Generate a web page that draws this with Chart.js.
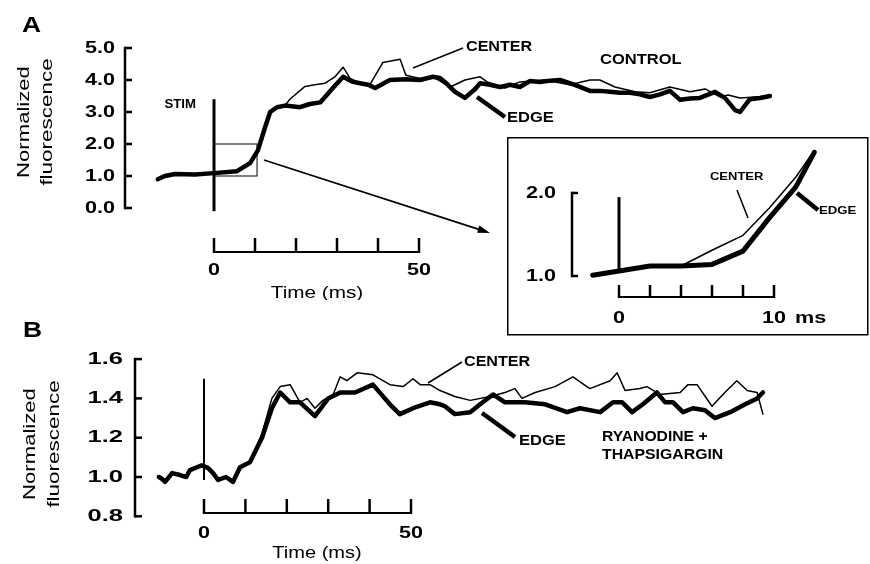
<!DOCTYPE html>
<html>
<head>
<meta charset="utf-8">
<script src="https://cdn.jsdelivr.net/npm/chart.js@4.4.1/dist/chart.umd.min.js"></script>
<style>
  body { margin: 0; background: #fff; }
  #wrap { position: relative; width: 870px; height: 564px; overflow: hidden; background: #fff; }
  canvas { position: absolute; }
</style>
</head>
<body>
<div id="wrap">
  <canvas id="panelA"></canvas>
  <canvas id="panelB"></canvas>
  <canvas id="panelInset"></canvas>
</div>
<script>
// ---- values (time in ms, normalized fluorescence) ----
const aEdgeTime = [-13.7, -12, -9.5, -4.6, 0, 5.6, 8.8, 10.7, 12.4, 13.7, 15.4, 17.3, 21, 23.4, 25.9, 29, 31.5, 33.7, 35.6, 37.6, 39.3, 42.9, 46.6, 50.2, 53.4, 55.1, 56.3, 58.8, 61.2, 63.7, 64.9, 67.3, 69.8, 72.2, 74.6, 77.1, 79.5, 82, 84.4, 88, 91.7, 94.1, 96.6, 99, 101.5, 103.9, 106.3, 108.8, 111.2, 113.7, 116.1, 118.5, 122.2, 124.6, 127.1, 128.3, 130.7, 133.2, 135.6];
const aEdgeValue = [0.9, 1.0, 1.06, 1.05, 1.09, 1.15, 1.4, 1.8, 2.5, 3.0, 3.15, 3.2, 3.15, 3.25, 3.3, 3.75, 4.1, 3.95, 3.9, 3.85, 3.75, 4.0, 4.02, 4.0, 4.1, 4.06, 3.94, 3.63, 3.44, 3.72, 3.9, 3.85, 3.78, 3.85, 3.78, 3.97, 3.94, 3.98, 4.0, 3.85, 3.66, 3.66, 3.63, 3.6, 3.6, 3.55, 3.47, 3.55, 3.66, 3.38, 3.42, 3.44, 3.63, 3.44, 3.06, 3.0, 3.4, 3.44, 3.5];
const aCenterTime = [-13.7, -12, -9.5, -4.6, 0, 5.6, 8.8, 10.7, 12.4, 13.7, 15.4, 17.3, 18.5, 22.2, 24.6, 27.1, 29.5, 31.5, 33.2, 35.6, 38, 41.2, 45.4, 46.8, 50.2, 53.4, 57.6, 61.2, 64.9, 66.6, 71, 74.6, 80.7, 86.8, 91.7, 94.1, 97.8, 102.7, 106.3, 111.2, 116.1, 119.8, 123.4, 125.4, 128.3, 132, 135.6];
const aCenterValue = [0.9, 1.0, 1.06, 1.05, 1.09, 1.15, 1.4, 1.8, 2.5, 3.0, 3.15, 3.2, 3.4, 3.8, 3.85, 3.9, 4.1, 4.4, 4.05, 3.9, 3.85, 4.55, 4.65, 4.15, 4.05, 4.1, 3.78, 4.0, 4.1, 3.94, 3.75, 3.94, 4.0, 3.85, 4.0, 4.0, 3.78, 3.63, 3.6, 3.78, 3.63, 3.72, 3.47, 3.53, 3.44, 3.47, 3.5];

const insetEdgeTime = [-1.7, 0, 2, 4, 6, 8, 9.7, 11.4, 12.6];
const insetEdgeValue = [1.01, 1.06, 1.12, 1.12, 1.14, 1.3, 1.7, 2.07, 2.49];
const insetCenterTime = [-1.7, 0, 2, 4, 6, 8, 9.7, 11.4, 12.4];
const insetCenterValue = [1.01, 1.06, 1.12, 1.12, 1.31, 1.49, 1.82, 2.19, 2.46];

const bEdgeTime = [-10.9, -10.1, -9.4, -7.7, -5.8, -4.3, -3.4, -0.5, 1, 2.2, 3.4, 5.3, 7, 8.7, 11.1, 14, 16.4, 18.4, 20.8, 23.2, 26.8, 30, 32.9, 36.5, 40.8, 44.9, 47.3, 50.5, 54.6, 57, 58.2, 60.6, 64.3, 66.7, 69.8, 72.7, 77.5, 82.4, 87.7, 90.8, 95.7, 98.8, 101, 103.4, 106, 109.4, 111.4, 113.3, 115.7, 118.1, 121, 123.4, 127.1, 130.7, 133.6, 135];
const bEdgeValue = [1.0, 0.99, 0.975, 1.02, 1.01, 1.0, 1.035, 1.06, 1.045, 1.02, 0.985, 1.0, 0.975, 1.05, 1.075, 1.2, 1.35, 1.43, 1.38, 1.38, 1.31, 1.4, 1.43, 1.43, 1.47, 1.37, 1.32, 1.35, 1.38, 1.37, 1.36, 1.32, 1.33, 1.37, 1.42, 1.38, 1.38, 1.37, 1.33, 1.35, 1.33, 1.38, 1.38, 1.33, 1.37, 1.43, 1.38, 1.38, 1.33, 1.35, 1.34, 1.3, 1.33, 1.37, 1.4, 1.43];
const bCenterTime = [-10.9, -10.1, -9.4, -7.7, -5.8, -4.3, -3.4, -0.5, 1, 2.2, 3.4, 5.3, 7, 8.7, 11.1, 14, 16.4, 18.4, 20.8, 23.2, 24.9, 26.8, 28.7, 31.2, 32.9, 34.5, 37, 40.8, 44.9, 48.1, 50.5, 52.2, 54.6, 57, 60.6, 64.3, 69.1, 72.7, 75.1, 76.8, 80, 84.8, 89.1, 93.2, 98.1, 99.8, 101.7, 105.3, 107, 110.1, 115, 116.9, 119.1, 122.7, 125.8, 128.7, 131.2, 133.6, 135];
const bCenterValue = [1.0, 0.99, 0.975, 1.02, 1.01, 1.0, 1.035, 1.06, 1.045, 1.02, 0.985, 1.0, 0.975, 1.05, 1.075, 1.22, 1.4, 1.46, 1.47, 1.38, 1.4, 1.35, 1.39, 1.42, 1.51, 1.49, 1.53, 1.52, 1.47, 1.46, 1.5, 1.47, 1.47, 1.44, 1.41, 1.39, 1.41, 1.43, 1.45, 1.4, 1.43, 1.46, 1.51, 1.45, 1.49, 1.53, 1.44, 1.45, 1.46, 1.42, 1.43, 1.47, 1.47, 1.36, 1.43, 1.49, 1.44, 1.43, 1.32];

// ---- axis ticks ----
const aYTicks = [0, 1, 2, 3, 4, 5];
const aYLabels = ['0.0', '1.0', '2.0', '3.0', '4.0', '5.0'];
const aTimeTicks = [0, 10, 20, 30, 40, 50];
const insetYTicks = [1, 2];
const insetYLabels = ['1.0', '2.0'];
const insetTimeTicks = [0, 2, 4, 6, 8, 10];
const bYTicks = [0.8, 1.0, 1.2, 1.4, 1.6];
const bYLabels = ['0.8', '1.0', '1.2', '1.4', '1.6'];
const bTimeTicks = [0, 10, 20, 30, 40, 50];

const FONT = '"Liberation Sans", Arial, Helvetica, sans-serif';

function pts(t, v) {
  return t.map((x, i) => ({ x: x, y: v[i] }));
}

function traces(edgeT, edgeV, centerT, centerV, thick) {
  return [
    { label: 'CENTER', data: pts(centerT, centerV), borderWidth: 1.5, order: 0 },
    { label: 'EDGE', data: pts(edgeT, edgeV), borderWidth: thick, order: 1 }
  ];
}

// small drawing helpers, all in page pixels
function helpers(chart, box) {
  const ctx = chart.ctx;
  const g = {
    ctx: ctx,
    X: v => chart.scales.x.getPixelForValue(v) + box.left,
    Y: v => chart.scales.y.getPixelForValue(v) + box.top,
    line(x1, y1, x2, y2, w, cap) {
      ctx.save();
      ctx.strokeStyle = '#000';
      ctx.lineWidth = w;
      ctx.lineCap = cap || 'butt';
      ctx.beginPath();
      ctx.moveTo(x1, y1);
      ctx.lineTo(x2, y2);
      ctx.stroke();
      ctx.restore();
    },
    text(s, x, y, size, o) {
      o = Object.assign({ bold: true, sx: 1.25, align: 'left', rot: 0 }, o || {});
      ctx.save();
      ctx.translate(x, y);
      if (o.rot) ctx.rotate(o.rot);
      ctx.scale(o.sx, 1);
      ctx.font = (o.bold ? 'bold ' : '') + size + 'px ' + FONT;
      ctx.textAlign = o.align;
      ctx.textBaseline = 'middle';
      ctx.fillStyle = '#000';
      ctx.fillText(s, 0, 0);
      ctx.restore();
    },
    yBracket(ticks, labels, axisX, tickLen, labelRight, size, sx) {
      const top = g.Y(ticks[ticks.length - 1]), bot = g.Y(ticks[0]);
      g.line(axisX, top - 1.25, axisX, bot + 1.25, 2.5);
      ticks.forEach((t, i) => {
        g.line(axisX, g.Y(t), axisX + tickLen, g.Y(t), 2.5);
        g.text(labels[i], labelRight, g.Y(t), size, { align: 'right', sx: sx });
      });
    },
    xBar(ticks, y, tickH, w) {
      g.line(g.X(ticks[0]) - 1, y, g.X(ticks[ticks.length - 1]) + 1, y, w);
      ticks.forEach(t => g.line(g.X(t), y - tickH, g.X(t), y + w / 2, 2.5));
    }
  };
  return g;
}

function makePanel(id, box, map, xRange, yRange, datasets, draw, background) {
  const cv = document.getElementById(id);
  cv.width = box.w;
  cv.height = box.h;
  cv.style.left = box.left + 'px';
  cv.style.top = box.top + 'px';

  // plot area in page pixels from the figure's axis calibration
  const x0 = map.t0 + xRange[0] * map.pxX, x1 = map.t0 + xRange[1] * map.pxX;
  const y0 = map.v0 - (yRange[1] - map.vRef) * map.pxY, y1 = map.v0 - (yRange[0] - map.vRef) * map.pxY;

  return new Chart(cv, {
    type: 'line',
    data: { datasets: datasets },
    options: {
      responsive: false,
      animation: false,
      events: [],
      layout: { padding: { left: x0 - box.left, right: box.left + box.w - x1, top: y0 - box.top, bottom: box.top + box.h - y1 } },
      scales: {
        x: { type: 'linear', display: false, min: xRange[0], max: xRange[1] },
        y: { type: 'linear', display: false, min: yRange[0], max: yRange[1] }
      },
      plugins: { legend: { display: false }, tooltip: { enabled: false } },
      datasets: { line: { clip: false } },
      elements: {
        point: { radius: 0 },
        line: { tension: 0, borderColor: '#000', borderJoinStyle: 'round', borderCapStyle: 'round' }
      }
    },
    plugins: [{
      id: id + 'Decor',
      beforeDraw(chart) {
        if (!background) return;
        chart.ctx.save();
        chart.ctx.fillStyle = background;
        chart.ctx.fillRect(0, 0, chart.width, chart.height);
        chart.ctx.restore();
      },
      afterDraw(chart) {
        chart.ctx.save();
        chart.ctx.translate(-box.left, -box.top);
        draw(helpers(chart, box));
        chart.ctx.restore();
      }
    }]
  });
}

// ---------------- Panel A ----------------
makePanel('panelA', { left: 0, top: 0, w: 870, h: 300 },
  { t0: 214, pxX: 4.1, v0: 208, vRef: 0, pxY: 32 },
  [-14, 136], [0, 5],
  traces(aEdgeTime, aEdgeValue, aCenterTime, aCenterValue, 4.5),
  g => {
    g.text('A', 22, 26, 22, { sx: 1.2 });
    g.text('Normalized', 24, 122, 17, { bold: false, sx: 1.3, align: 'center', rot: -Math.PI / 2 });
    g.text('fluorescence', 47, 122, 17, { bold: false, sx: 1.32, align: 'center', rot: -Math.PI / 2 });
    g.yBracket(aYTicks, aYLabels, 125, 7, 115, 17, 1.27);

    // stimulus marker and zoom window
    g.line(g.X(0), g.Y(3.4), g.X(0), g.Y(-0.1), 3);
    g.text('STIM', 196, 105, 12, { align: 'right', sx: 1.1 });
    g.ctx.strokeStyle = '#000';
    g.ctx.lineWidth = 1;
    g.ctx.strokeRect(g.X(0), g.Y(2), g.X(10.5) - g.X(0), g.Y(1) - g.Y(2));

    // arrow to the inset
    const ax1 = 264, ay1 = 160, ax2 = 490, ay2 = 233;
    g.line(ax1, ay1, ax2 - 8, ay2 - 2.6, 1.8);
    const ang = Math.atan2(ay2 - ay1, ax2 - ax1);
    g.ctx.fillStyle = '#000';
    g.ctx.beginPath();
    g.ctx.moveTo(ax2, ay2);
    g.ctx.lineTo(ax2 - 13 * Math.cos(ang - 0.3), ay2 - 13 * Math.sin(ang - 0.3));
    g.ctx.lineTo(ax2 - 13 * Math.cos(ang + 0.3), ay2 - 13 * Math.sin(ang + 0.3));
    g.ctx.closePath();
    g.ctx.fill();

    // time scale bar
    g.xBar(aTimeTicks, 252, 14, 2);
    g.text('0', g.X(0), 270, 17, { align: 'center', sx: 1.27 });
    g.text('50', g.X(50), 270, 17, { align: 'center', sx: 1.27 });
    g.text('Time (ms)', 317, 293, 17, { bold: false, align: 'center', sx: 1.22 });

    // trace labels
    g.line(413, 68, 463, 48, 1.5);
    g.text('CENTER', 466, 47, 14, { sx: 1.15 });
    g.text('CONTROL', 600, 60, 14, { sx: 1.18 });
    g.line(477, 97, 505, 117, 4.5);
    g.text('EDGE', 507, 118, 14, { sx: 1.18 });
  });

// ---------------- Panel B ----------------
makePanel('panelB', { left: 0, top: 300, w: 870, h: 264 },
  { t0: 204, pxX: 4.14, v0: 477, vRef: 1.0, pxY: 196.5 },
  [-12, 136], [0.8, 1.6],
  traces(bEdgeTime, bEdgeValue, bCenterTime, bCenterValue, 4.5),
  g => {
    g.text('B', 23, 331, 22, { sx: 1.2 });
    g.text('Normalized', 30, 444, 17, { bold: false, sx: 1.3, align: 'center', rot: -Math.PI / 2 });
    g.text('fluorescence', 54, 444, 17, { bold: false, sx: 1.32, align: 'center', rot: -Math.PI / 2 });
    g.yBracket(bYTicks, bYLabels, 135, 7, 123, 17, 1.5);

    g.line(g.X(0), g.Y(1.5), g.X(0), g.Y(0.985), 2);

    g.xBar(bTimeTicks, 513, 14, 2);
    g.text('0', g.X(0), 533, 17, { align: 'center', sx: 1.27 });
    g.text('50', g.X(50), 533, 17, { align: 'center', sx: 1.27 });
    g.text('Time (ms)', 317, 553, 17, { bold: false, align: 'center', sx: 1.18 });

    g.line(428, 383, 462, 362, 1.5);
    g.text('CENTER', 464, 362, 14, { sx: 1.15 });
    g.line(482, 413, 515, 437, 4.5);
    g.text('EDGE', 519, 441, 14, { sx: 1.18 });
    g.text('RYANODINE +', 602, 437, 14, { sx: 1.12 });
    g.text('THAPSIGARGIN', 602, 455, 14, { sx: 1.13 });
  });

// ---------------- Inset (first 10 ms of panel A) ----------------
makePanel('panelInset', { left: 507, top: 137, w: 362, h: 200 },
  { t0: 619, pxX: 15.5, v0: 276, vRef: 1.0, pxY: 83 },
  [-2, 13], [0.9, 2.6],
  traces(insetEdgeTime, insetEdgeValue, insetCenterTime, insetCenterValue, 5),
  g => {
    g.ctx.strokeStyle = '#000';
    g.ctx.lineWidth = 1.5;
    g.ctx.strokeRect(507.75, 137.75, 360, 197);

    g.yBracket(insetYTicks, insetYLabels, 572, 6, 556, 17, 1.27);
    g.line(g.X(0), g.Y(1.95), g.X(0), g.Y(1.04), 3);

    g.xBar(insetTimeTicks, 297, 12, 2);
    g.text('0', g.X(0), 318, 17, { align: 'center', sx: 1.27 });
    g.text('10', g.X(10), 318, 17, { align: 'center', sx: 1.27 });
    g.text('ms', 795, 318, 17, { sx: 1.27 });

    g.line(737, 190, 748, 218, 1.5);
    g.text('CENTER', 710, 177, 11, { sx: 1.18 });
    g.line(797, 193, 818, 210, 4.5);
    g.text('EDGE', 819, 211, 11, { sx: 1.2 });
  }, '#fff');
</script>
</body>
</html>
